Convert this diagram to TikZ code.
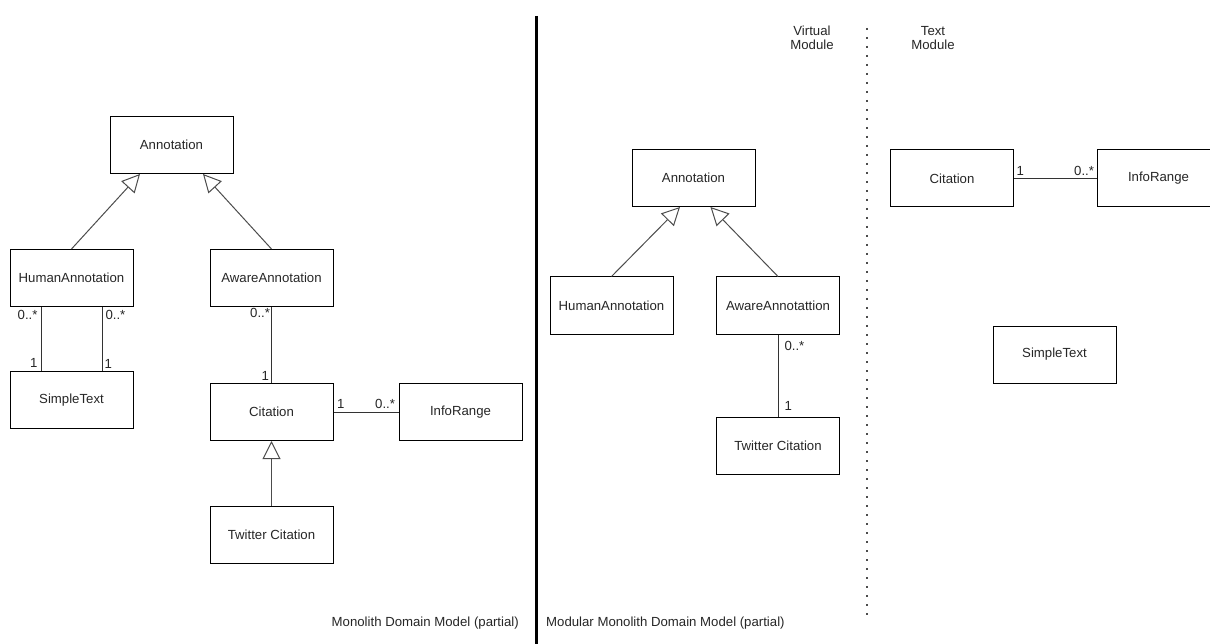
\documentclass[tikz,border=0pt]{standalone}
\usepackage{fontspec}
\setmainfont{Liberation Sans}
\usetikzlibrary{arrows.meta}

\begin{document}
\begin{tikzpicture}[x=1pt,y=-1pt,
    cls/.style={draw=black,line width=1pt,minimum width=123pt,minimum height=57pt,
        inner sep=0pt,font=\fontsize{13.2}{15}\selectfont,text=black!85},
    assoc/.style={draw=black!80,line width=1pt},
    inherit/.style={draw=black!70,line width=1pt,
        -{Triangle[open,length=18pt,width=18pt,fill=white]}},
    mult/.style={font=\fontsize{13.2}{15}\selectfont,text=black!85,inner sep=3pt},
    caption/.style={font=\fontsize{13.2}{15}\selectfont,text=black!85,inner sep=0pt}]
    \useasboundingbox (0,0) rectangle (1210,644);

    % monolith
    \node[cls] (ann) at (171.5,145) {Annotation};
    \node[cls] (hum) at (71.5,278) {HumanAnnotation};
    \node[cls] (awa) at (271.5,278) {AwareAnnotation};
    \node[cls] (txt) at (71.5,400) {SimpleText};
    \node[cls] (cit) at (271.5,412) {Citation};
    \node[cls] (rng) at (460.5,412) {InfoRange};
    \node[cls] (twi) at (271.5,535) {Twitter Citation};

    \draw[inherit] (hum.north) -- ([xshift=-31.5pt]ann.south);
    \draw[inherit] (awa.north) -- ([xshift=31.5pt]ann.south);
    \draw[inherit] (twi.north) -- (cit.south);

    \draw[assoc] ([xshift=-30.5pt]hum.south) -- ([xshift=-30.5pt]txt.north)
        node[mult,pos=0,anchor=north east] {0..*}
        node[mult,pos=1,anchor=south east] {1};
    \draw[assoc] ([xshift=30.5pt]hum.south) -- ([xshift=30.5pt]txt.north)
        node[mult,pos=0,anchor=north west] {0..*}
        node[mult,pos=1,anchor=south west,inner sep=2pt] {1};
    \draw[assoc] (awa.south) -- (cit.north)
        node[mult,pos=0,anchor=north east,inner sep=1pt] {0..*}
        node[mult,pos=1,anchor=south east,inner sep=2pt] {1};
    \draw[assoc] (cit.east) -- (rng.west)
        node[mult,pos=0,anchor=south west] {1}
        node[mult,pos=1,anchor=south east] {0..*};

    \draw[line width=3pt] (536,16) -- (536,644);
    \node[caption,anchor=east] (capmono) at (519,623) {Monolith Domain Model (partial)};
    \node[caption,anchor=west] (capmod) at (546,623) {Modular Monolith Domain Model (partial)};

    % modular monolith
    \node[cls] (annm) at (693.5,178) {Annotation};
    \node[cls] (humm) at (611.5,305.5) {HumanAnnotation};
    \node[cls] (awam) at (778,305.5) {AwareAnnotattion};
    \node[cls] (twim) at (778,445.5) {Twitter Citation};

    \draw[inherit] (humm.north) -- ([xshift=-13.5pt]annm.south);
    \draw[inherit] (awam.north) -- ([xshift=17pt]annm.south);
    \draw[assoc] (awam.south) -- (twim.north)
        node[mult,pos=0,anchor=north west,inner sep=6pt] {0..*}
        node[mult,pos=1,anchor=south west,inner sep=6pt] {1};

    \node[caption,align=center,font=\fontsize{13.2}{14.5}\selectfont] (virt) at (812,38) {Virtual\\Module};
    \draw[black!70,line width=2pt,dash pattern=on 2pt off 7pt] (867,28) -- (867,620);
    \node[caption,align=center,font=\fontsize{13.2}{14.5}\selectfont] (textmod) at (933,38) {Text\\Module};

    \node[cls] (citm) at (952,178.5) {Citation};
    \node[cls] (rngm) at (1158.5,178.5) {InfoRange};
    \node[cls] (txtm) at (1054.5,354.5) {SimpleText};
    \draw[assoc] (citm.east) -- (rngm.west)
        node[mult,pos=0,anchor=south west,inner sep=2pt] {1}
        node[mult,pos=1,anchor=south east,inner sep=2pt] {0..*};
\end{tikzpicture}
\end{document}
